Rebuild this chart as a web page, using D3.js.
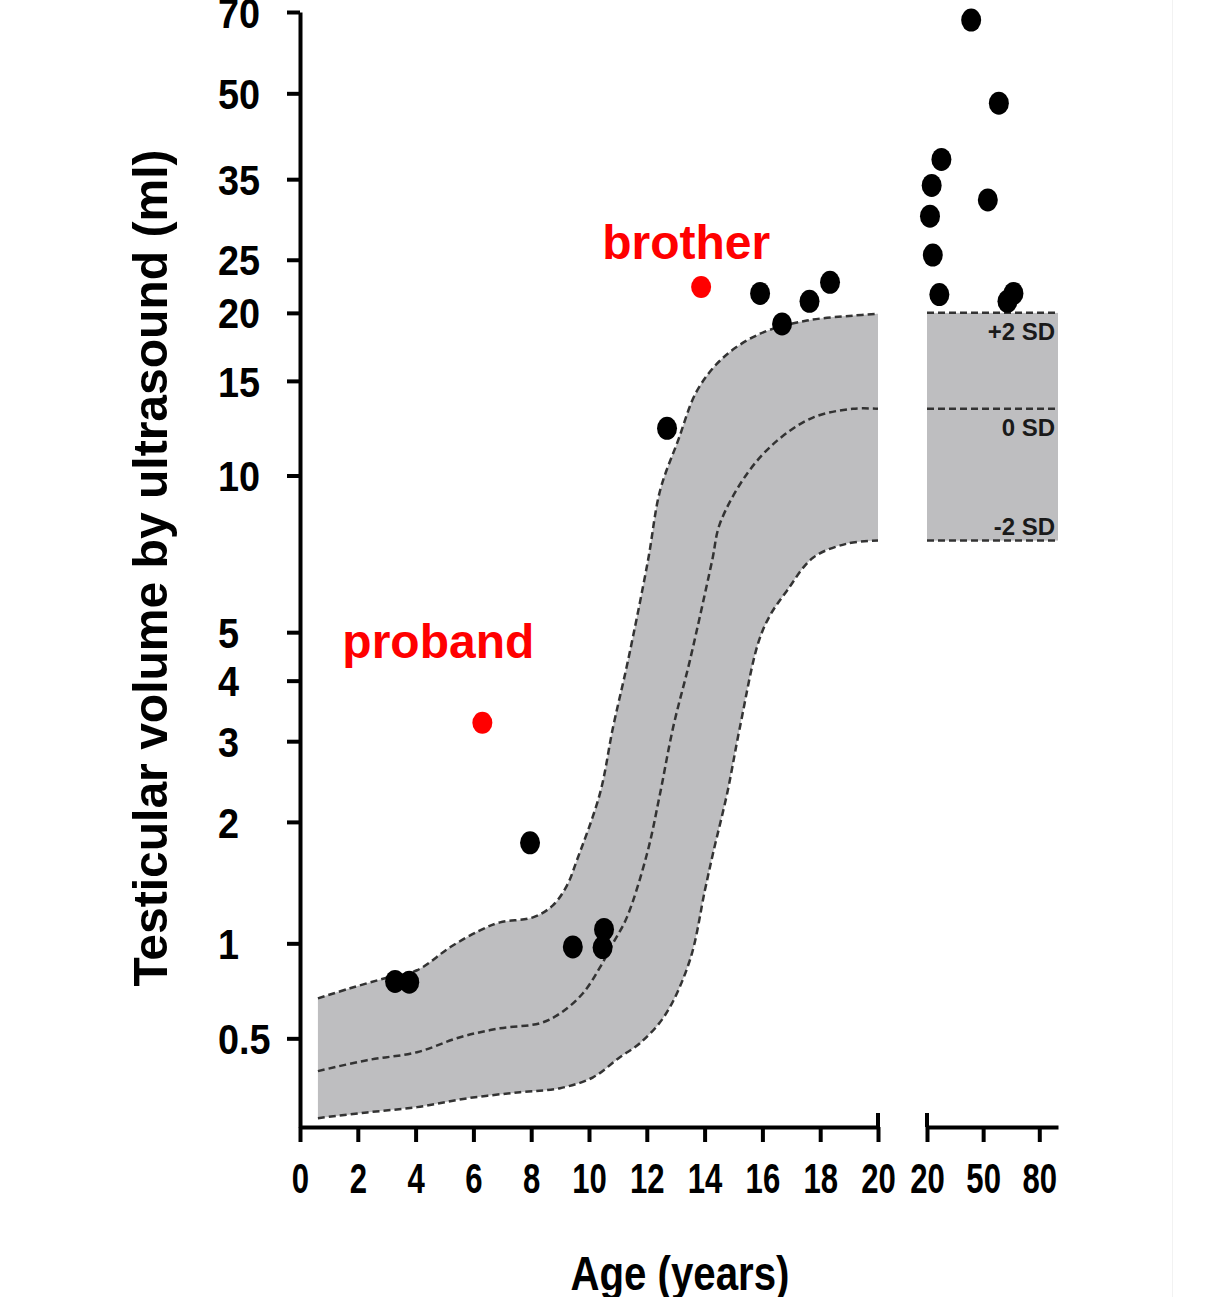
<!DOCTYPE html>
<html>
<head>
<meta charset="utf-8">
<script src="https://cdn.jsdelivr.net/npm/d3@7"></script>
<style>
  body { margin: 0; background: #fff; }
  svg { display: block; }
  text { font-family: 'Liberation Sans', Arial, sans-serif; font-weight: bold; }
</style>
</head>
<body>
<div id="chart"></div>
<script>
// axis ticks
const yTicks = [0.5, 1, 2, 3, 4, 5, 10, 15, 20, 25, 35, 50, 70];
const xTicksChild = [0, 2, 4, 6, 8, 10, 12, 14, 16, 18, 20];
const xTicksAdult = [20, 50, 80];

// reference band, children (age in years, volume in ml)
const upperAge = [0.62, 1.73, 2.94, 4.05, 5.19, 6.23, 6.92, 8.06, 8.75, 9.24, 9.58, 10.38, 10.83, 11.35, 12.04, 12.46, 13.08, 13.74, 14.64, 15.92, 17.54, 19.13, 20];
const upperVol = [0.687, 0.739, 0.793, 0.838, 0.975, 1.085, 1.139, 1.174, 1.261, 1.416, 1.628, 2.316, 3.205, 4.39, 6.89, 9.37, 11.62, 14.39, 16.55, 18.32, 19.36, 19.77, 19.93];
const meanAge = [0.62, 2.32, 4.05, 5.54, 6.92, 8.30, 9.00, 9.79, 10.38, 10.83, 11.31, 12.01, 12.46, 12.91, 13.49, 14.26, 14.53, 15.47, 16.51, 17.75, 19.13, 20];
const meanVol = [0.368, 0.410, 0.442, 0.505, 0.544, 0.567, 0.613, 0.713, 0.855, 1.0, 1.174, 1.69, 2.316, 3.205, 4.39, 6.89, 8.11, 10.08, 11.62, 12.83, 13.32, 13.32];
const lowerAge = [0.62, 2.32, 4.05, 5.78, 7.61, 9.00, 10.14, 11.07, 11.76, 12.63, 13.49, 14.01, 14.29, 14.78, 15.22, 15.85, 16.26, 16.85, 17.75, 18.93, 20];
const lowerVol = [0.207, 0.225, 0.242, 0.271, 0.292, 0.306, 0.345, 0.422, 0.479, 0.604, 0.896, 1.376, 1.69, 2.316, 3.205, 4.75, 5.39, 6.03, 6.98, 7.43, 7.53];

// reference band, adults: +2 SD, 0 SD, -2 SD
const adultBand = [20, 13.32, 7.53];
const sdLabels = ['+2 SD', '0 SD', '-2 SD'];

// family members
const childAge = [3.29, 3.78, 7.96, 9.44, 10.47, 10.52, 12.70, 15.92, 16.68, 17.63, 18.34];
const childVol = [0.776, 0.772, 1.79, 0.977, 0.973, 1.091, 12.25, 21.7, 19.09, 21.0, 22.74];
const adultAge = [43.6, 58.4, 27.7, 22.5, 21.6, 52.5, 23.1, 26.6, 63.0, 66.2];
const adultVol = [67.7, 48.0, 38.0, 34.1, 30.0, 32.1, 25.5, 21.6, 21.0, 21.7];
const probandAge = 6.31, probandVol = 3.28;
const brotherAge = 13.88, brotherVol = 22.3;

const width = 1226, height = 1297;
const svg = d3.select('#chart').append('svg')
    .attr('width', width)
    .attr('height', height);

const y = d3.scaleSymlog().constant(0.55)
    .domain([0.18, 70])
    .range([1127, 12]);
const xL = d3.scaleLinear().domain([0, 20]).range([300, 878]);
const xR = d3.scaleLinear().domain([20, 90]).range([927, 1058]);

const bandFill = '#bebec0';
const dashColor = '#333';

function pts(ages, vols) {
  return ages.map((a, i) => [xL(a), y(vols[i])]);
}
const line = d3.line().curve(d3.curveCatmullRom.alpha(0.5));

// child band
const up = pts(upperAge, upperVol);
const low = pts(lowerAge, lowerVol);
svg.append('path')
    .attr('d', line(up) + 'L' + line(low.slice().reverse()).slice(1) + 'Z')
    .attr('fill', bandFill);

[up, pts(meanAge, meanVol), low].forEach((p) => {
  svg.append('path')
      .attr('d', line(p))
      .attr('fill', 'none')
      .attr('stroke', dashColor)
      .attr('stroke-width', 2.5)
      .attr('stroke-dasharray', '7,4');
});

// adult band
svg.append('rect')
    .attr('x', xR(20))
    .attr('y', y(adultBand[0]))
    .attr('width', xR(90) - xR(20))
    .attr('height', y(adultBand[2]) - y(adultBand[0]))
    .attr('fill', bandFill);

svg.selectAll('.sd-line')
    .data(adultBand)
  .enter().append('line')
    .attr('class', 'sd-line')
    .attr('x1', xR(20))
    .attr('x2', xR(90))
    .attr('y1', (d) => y(d))
    .attr('y2', (d) => y(d))
    .attr('stroke', dashColor)
    .attr('stroke-width', 2.5)
    .attr('stroke-dasharray', '7,4');

svg.selectAll('.sd-label')
    .data(adultBand)
  .enter().append('text')
    .attr('class', 'sd-label')
    .attr('x', xR(90) - 3)
    .attr('y', (d, i) => y(d) + (i < 2 ? 27 : -6))
    .attr('text-anchor', 'end')
    .style('font-size', '24px')
    .style('fill', '#1a1a1a')
    .text((d, i) => sdLabels[i]);

// axes
function squeeze(sel, f) {
  sel.each(function () {
    const w = this.getComputedTextLength();
    this.setAttribute('textLength', w * f);
    this.setAttribute('lengthAdjust', 'spacingAndGlyphs');
  });
}

const gy = svg.append('g')
    .attr('transform', `translate(${xL(0)},0)`)
    .call(d3.axisLeft(y).tickValues(yTicks).tickFormat((d) => String(d))
        .tickSize(13).tickSizeOuter(0));
gy.selectAll('text')
    .attr('x', 218 - xL(0))
    .attr('dy', '0.36em')
    .attr('text-anchor', 'start')
    .style('font-size', '42px')
    .style('fill', '#000')
    .call(squeeze, 0.9);

const axisY = y.range()[0];
const gxL = svg.append('g')
    .attr('transform', `translate(0,${axisY})`)
    .call(d3.axisBottom(xL).tickValues(xTicksChild).tickSize(15).tickPadding(21).tickSizeOuter(0));
const gxR = svg.append('g')
    .attr('transform', `translate(0,${axisY})`)
    .call(d3.axisBottom(xR).tickValues(xTicksAdult).tickSize(15).tickPadding(21).tickSizeOuter(0));
[gxL, gxR].forEach((g) => {
  g.selectAll('text')
      .style('font-size', '42px')
      .style('fill', '#000')
      .call(squeeze, 0.74);
});
[gy, gxL, gxR].forEach((g) => {
  g.select('.domain').attr('stroke-width', 4).attr('stroke', '#000');
  g.selectAll('.tick line').attr('stroke-width', 4).attr('stroke', '#000');
});

// end caps at the axis break
[xL(20), xR(20)].forEach((x) => {
  svg.append('line')
      .attr('x1', x).attr('x2', x)
      .attr('y1', axisY - 14).attr('y2', axisY)
      .attr('stroke', '#000')
      .attr('stroke-width', 4);
});

// axis titles
svg.append('text')
    .attr('transform', 'translate(167,568) rotate(-90)')
    .attr('text-anchor', 'middle')
    .style('font-size', '49px')
    .text('Testicular volume by ultrasound (ml)')
    .attr('textLength', 837)
    .attr('lengthAdjust', 'spacingAndGlyphs');

svg.append('text')
    .attr('x', 680)
    .attr('y', 1290)
    .attr('text-anchor', 'middle')
    .style('font-size', '49px')
    .text('Age (years)')
    .attr('textLength', 219)
    .attr('lengthAdjust', 'spacingAndGlyphs');

// points
svg.selectAll('.child')
    .data(childAge)
  .enter().append('ellipse')
    .attr('class', 'child')
    .attr('cx', (d) => xL(d))
    .attr('cy', (d, i) => y(childVol[i]))
    .attr('rx', 10)
    .attr('ry', 11.5)
    .attr('fill', '#000');

svg.selectAll('.adult')
    .data(adultAge)
  .enter().append('ellipse')
    .attr('class', 'adult')
    .attr('cx', (d) => xR(d))
    .attr('cy', (d, i) => y(adultVol[i]))
    .attr('rx', 10)
    .attr('ry', 11.5)
    .attr('fill', '#000');

const red = '#ff0000';
[[probandAge, probandVol, 'proband', -140, -65], [brotherAge, brotherVol, 'brother', -99, -28]].forEach(([a, v, name, dx, dy]) => {
  svg.append('ellipse')
      .attr('cx', xL(a))
      .attr('cy', y(v))
      .attr('rx', 10)
      .attr('ry', 11)
      .attr('fill', red);
  svg.append('text')
      .attr('x', xL(a) + dx)
      .attr('y', y(v) + dy)
      .style('font-size', '48px')
      .style('fill', red)
      .text(name);
});

// faint frame edge on the right
svg.append('line')
    .attr('x1', 1172.5).attr('x2', 1172.5)
    .attr('y1', 0).attr('y2', height)
    .attr('stroke', '#f2f2f2')
    .attr('stroke-width', 1);
</script>
</body>
</html>
